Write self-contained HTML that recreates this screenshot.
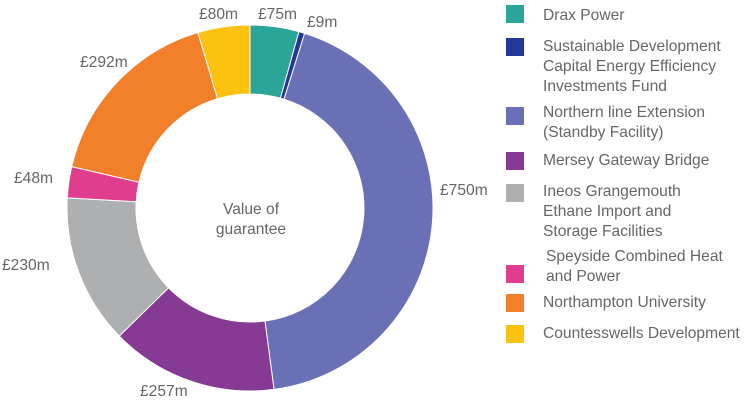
<!DOCTYPE html><html><head><style>
html,body{margin:0;padding:0;background:#fff;}
svg{display:block;}
text{font-family:"Liberation Sans",sans-serif;fill:#666;font-size:15.6px;}
</style></head><body>
<svg width="747" height="403" viewBox="0 0 747 403" xmlns="http://www.w3.org/2000/svg">
<g id="donut"></g>
<text x="251" y="214" text-anchor="middle" font-size="14.5">Value of</text>
<text x="251" y="234" text-anchor="middle" font-size="14.5">guarantee</text>
<text x="258" y="19">£75m</text>
<text x="307" y="27">£9m</text>
<text x="440" y="195">£750m</text>
<text x="140" y="396">£257m</text>
<text x="2" y="270">£230m</text>
<text x="14" y="183">£48m</text>
<text x="80" y="67">£292m</text>
<text x="199" y="19">£80m</text>
<rect x="506" y="5" width="18" height="18" fill="#2aa598"/>
<rect x="506" y="38" width="18" height="18" fill="#24379a"/>
<rect x="506" y="107" width="18" height="18" fill="#6a70b5"/>
<rect x="506" y="152" width="18" height="18" fill="#873a94"/>
<rect x="506" y="184" width="18" height="18" fill="#aeafb1"/>
<rect x="506" y="265" width="18" height="18" fill="#e13d8e"/>
<rect x="506" y="294" width="18" height="18" fill="#f27f2a"/>
<rect x="506" y="325" width="18" height="18" fill="#fcc20f"/>
<text x="543" y="20">Drax Power</text>
<text x="543" y="51">Sustainable Development</text>
<text x="543" y="71">Capital Energy Efficiency</text>
<text x="543" y="91">Investments Fund</text>
<text x="543" y="117">Northern line Extension</text>
<text x="543" y="137">(Standby Facility)</text>
<text x="543" y="165">Mersey Gateway Bridge</text>
<text x="543" y="196">Ineos Grangemouth</text>
<text x="543" y="216">Ethane Import and</text>
<text x="543" y="236">Storage Facilities</text>
<text x="546" y="261">Speyside Combined Heat</text>
<text x="546" y="281">and Power</text>
<text x="543" y="307">Northampton University</text>
<text x="543" y="338">Countesswells Development</text>
</svg>
<script>
var vals=[75,9,750,257,230,48,292,80],cols=["#2aa598","#24379a","#6a70b5","#873a94","#aeafb1","#e13d8e","#f27f2a","#fcc20f"];
var cx=250,cy=208,R=183,r=114,tot=0;vals.forEach(function(v){tot+=v});
var a=0,g=document.getElementById("donut"),s="";
function pt(rad,ang){var t=(ang-90)*Math.PI/180;return (cx+rad*Math.cos(t)).toFixed(2)+","+(cy+rad*Math.sin(t)).toFixed(2);}
vals.forEach(function(v,i){var b=a+v/tot*360,l=(b-a)>180?1:0;
s+='<path d="M'+pt(R,a)+' A'+R+','+R+' 0 '+l+' 1 '+pt(R,b)+' L'+pt(r,b)+' A'+r+','+r+' 0 '+l+' 0 '+pt(r,a)+' Z" fill="'+cols[i]+'" stroke="#fff" stroke-width="1"/>';a=b;});
g.innerHTML=s;
</script>
</body></html>
